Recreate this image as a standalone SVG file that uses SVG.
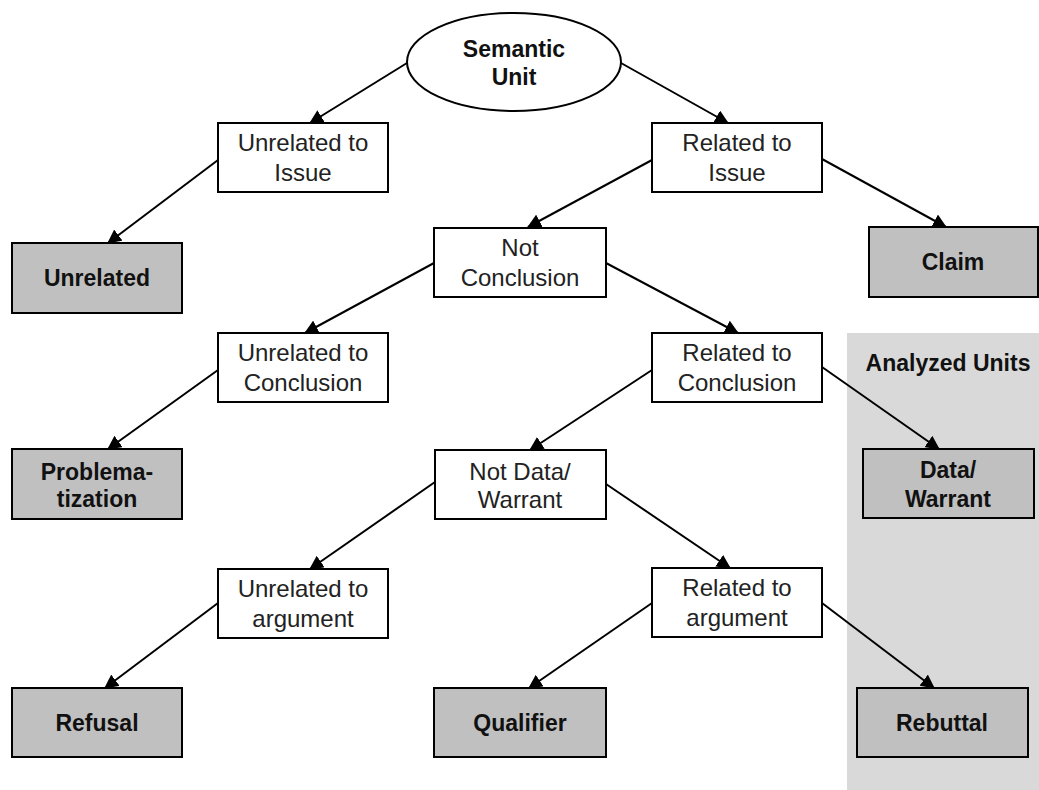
<svg xmlns="http://www.w3.org/2000/svg" width="1039" height="790" viewBox="0 0 1039 790">
<defs>
<marker id="arr" markerWidth="14" markerHeight="14" refX="13" refY="7" orient="auto" markerUnits="userSpaceOnUse">
<path d="M0,0 L14,7 L0,14 Z" fill="#000"/>
</marker>
<style>
.b{fill:#fff;stroke:#000;stroke-width:2}
.g{fill:#c0c0c0;stroke:#000;stroke-width:2}
.t{font-family:"Liberation Sans",Arial,sans-serif;font-size:24px;fill:#222;text-anchor:middle}
.tb{font-family:"Liberation Sans",Arial,sans-serif;font-size:23px;font-weight:bold;fill:#111;text-anchor:middle}
.e{stroke:#000;stroke-width:2;fill:none;marker-end:url(#arr)}
</style>
</defs>
<rect width="1039" height="790" fill="#fff"/>
<g id="panel">
<rect x="847" y="333" width="192" height="457" fill="#d9d9d9"/>
<text class="tb" x="948" y="371">Analyzed Units</text>
</g>
<g id="connectors">
<line class="e" x1="407" y1="63" x2="310" y2="123"/>
<line class="e" x1="621" y1="63" x2="728" y2="123"/>
<line class="e" x1="218" y1="160" x2="108" y2="243"/>
<line class="e" x1="652" y1="160" x2="528" y2="227"/>
<line class="e" x1="822" y1="159" x2="946" y2="227"/>
<line class="e" x1="434" y1="263" x2="305" y2="333"/>
<line class="e" x1="606" y1="263" x2="738" y2="333"/>
<line class="e" x1="218" y1="370" x2="108" y2="449"/>
<line class="e" x1="652" y1="370" x2="530" y2="450"/>
<line class="e" x1="822" y1="367" x2="939" y2="449"/>
<line class="e" x1="435" y1="482" x2="310" y2="569"/>
<line class="e" x1="606" y1="484" x2="730" y2="568"/>
<line class="e" x1="218" y1="603" x2="105" y2="688"/>
<line class="e" x1="652" y1="603" x2="529" y2="688"/>
<line class="e" x1="822" y1="603" x2="934" y2="688"/>
</g>
<g id="semantic-unit">
<ellipse cx="514" cy="62" rx="107" ry="49" class="b"/>
<text class="tb" x="514" y="57">Semantic</text>
<text class="tb" x="514" y="85">Unit</text>
</g>
<g id="unrelated-to-issue">
<rect x="218" y="123" width="170" height="69" class="b"/>
<text class="t" x="303" y="151">Unrelated to</text>
<text class="t" x="303" y="181">Issue</text>
</g>
<g id="related-to-issue">
<rect x="652" y="123" width="170" height="69" class="b"/>
<text class="t" x="737" y="151">Related to</text>
<text class="t" x="737" y="181">Issue</text>
</g>
<g id="unrelated">
<rect x="12" y="243" width="170" height="70" class="g"/>
<text class="tb" x="97" y="286">Unrelated</text>
</g>
<g id="claim">
<rect x="869" y="227" width="169" height="70" class="g"/>
<text class="tb" x="953" y="270">Claim</text>
</g>
<g id="not-conclusion">
<rect x="434" y="228" width="172" height="69" class="b"/>
<text class="t" x="520" y="256">Not</text>
<text class="t" x="520" y="286">Conclusion</text>
</g>
<g id="unrelated-to-conclusion">
<rect x="218" y="333" width="170" height="69" class="b"/>
<text class="t" x="303" y="361">Unrelated to</text>
<text class="t" x="303" y="391">Conclusion</text>
</g>
<g id="related-to-conclusion">
<rect x="652" y="333" width="170" height="69" class="b"/>
<text class="t" x="737" y="361">Related to</text>
<text class="t" x="737" y="391">Conclusion</text>
</g>
<g id="problematization">
<rect x="12" y="449" width="170" height="70" class="g"/>
<text class="tb" x="97" y="480">Problema-</text>
<text class="tb" x="97" y="507">tization</text>
</g>
<g id="not-data-warrant">
<rect x="435" y="450" width="171" height="69" class="b"/>
<text class="t" x="520" y="480">Not Data/</text>
<text class="t" x="520" y="508">Warrant</text>
</g>
<g id="data-warrant">
<rect x="863" y="449" width="171" height="69" class="g"/>
<text class="tb" x="948" y="478">Data/</text>
<text class="tb" x="948" y="507">Warrant</text>
</g>
<g id="unrelated-to-argument">
<rect x="218" y="569" width="170" height="69" class="b"/>
<text class="t" x="303" y="597">Unrelated to</text>
<text class="t" x="303" y="627">argument</text>
</g>
<g id="related-to-argument">
<rect x="652" y="568" width="170" height="69" class="b"/>
<text class="t" x="737" y="596">Related to</text>
<text class="t" x="737" y="626">argument</text>
</g>
<g id="refusal">
<rect x="12" y="688" width="170" height="69" class="g"/>
<text class="tb" x="97" y="731">Refusal</text>
</g>
<g id="qualifier">
<rect x="434" y="688" width="172" height="69" class="g"/>
<text class="tb" x="520" y="731">Qualifier</text>
</g>
<g id="rebuttal">
<rect x="857" y="688" width="171" height="69" class="g"/>
<text class="tb" x="942" y="731">Rebuttal</text>
</g>
</svg>
